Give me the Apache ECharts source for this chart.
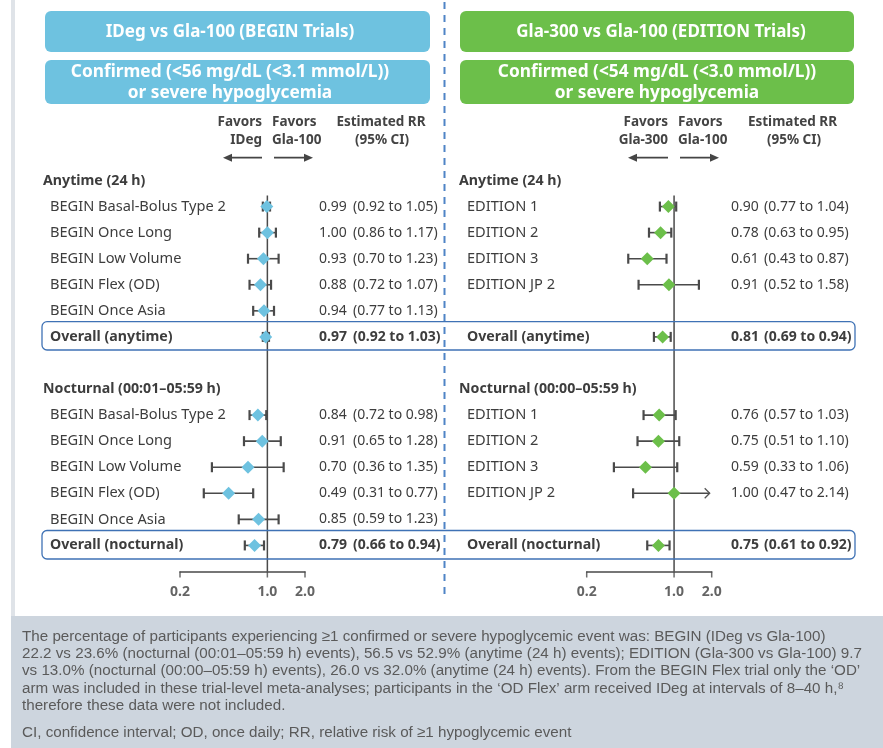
<!DOCTYPE html>
<html><head><meta charset="utf-8">
<script src="https://cdn.jsdelivr.net/npm/echarts@6/dist/echarts.min.js"></script>
<style>html,body{margin:0;padding:0;background:#fff}#c{width:883px;height:748px}</style>
</head><body><div id="c"></div>
<script>
// ---------------- DATA ----------------
const beginTrials = ['BEGIN Basal-Bolus Type 2','BEGIN Once Long','BEGIN Low Volume','BEGIN Flex (OD)','BEGIN Once Asia'];
const beginAnyRR = [0.99, 1.00, 0.93, 0.88, 0.94];
const beginAnyLo = [0.92, 0.86, 0.70, 0.72, 0.77];
const beginAnyHi = [1.05, 1.17, 1.23, 1.07, 1.13];
const beginAnyOverall = [0.97, 0.92, 1.03];
const beginNocRR = [0.84, 0.91, 0.70, 0.49, 0.85];
const beginNocLo = [0.72, 0.65, 0.36, 0.31, 0.59];
const beginNocHi = [0.98, 1.28, 1.35, 0.77, 1.23];
const beginNocOverall = [0.79, 0.66, 0.94];

const editionTrials = ['EDITION 1','EDITION 2','EDITION 3','EDITION JP 2'];
const edAnyRR = [0.90, 0.78, 0.61, 0.91];
const edAnyLo = [0.77, 0.63, 0.43, 0.52];
const edAnyHi = [1.04, 0.95, 0.87, 1.58];
const edAnyOverall = [0.81, 0.69, 0.94];
const edNocRR = [0.76, 0.75, 0.59, 1.00];
const edNocLo = [0.57, 0.51, 0.33, 0.47];
const edNocHi = [1.03, 1.10, 1.06, 2.14];
const edNocOverall = [0.75, 0.61, 0.92];

const tickValues = [0.2, 1.0, 2.0];
const tickLabels = ['0.2', '1.0', '2.0'];
const axisMin = 0.2, axisMax = 2.0;

// ---------------- BUILD ROWS ----------------
function buildPanel(secs, slots) {
  const labels = [], types = [], vals = [], pts = [];
  secs.forEach(s => {
    labels.push(s.header); types.push('h'); vals.push(null);
    for (let i = 0; i < slots; i++) {
      if (i < s.trials.length) {
        pts.push([s.lo[i], s.hi[i], labels.length, s.rr[i]]);
        labels.push(s.trials[i]); types.push('t'); vals.push([s.rr[i], s.lo[i], s.hi[i]]);
      } else { labels.push(''); types.push(''); vals.push(null); }
    }
    pts.push([s.overall[1], s.overall[2], labels.length, s.overall[0]]);
    labels.push(s.overallLabel); types.push('o'); vals.push(s.overall);
    labels.push(''); types.push(''); vals.push(null);
  });
  return {labels, types, vals, pts};
}
const leftP = buildPanel([
  {header:'Anytime (24 h)', trials:beginTrials, rr:beginAnyRR, lo:beginAnyLo, hi:beginAnyHi, overall:beginAnyOverall, overallLabel:'Overall (anytime)'},
  {header:'Nocturnal (00:01–05:59 h)', trials:beginTrials, rr:beginNocRR, lo:beginNocLo, hi:beginNocHi, overall:beginNocOverall, overallLabel:'Overall (nocturnal)'}
], 5);
const rightP = buildPanel([
  {header:'Anytime (24 h)', trials:editionTrials, rr:edAnyRR, lo:edAnyLo, hi:edAnyHi, overall:edAnyOverall, overallLabel:'Overall (anytime)'},
  {header:'Nocturnal (00:00–05:59 h)', trials:editionTrials, rr:edNocRR, lo:edNocLo, hi:edNocHi, overall:edNocOverall, overallLabel:'Overall (nocturnal)'}
], 5);
const nRows = leftP.labels.length; // 16
const cats = leftP.labels.map((_, i) => String(i));

const FONT = 'Noto Sans';
const TXT = '#3d3d3d';
const BLUE = '#6ec2e0', GREEN = '#6cbf4a';

function labelFmt(panel) {
  return (v, i) => {
    const t = panel.types[i], s = panel.labels[i];
    if (!s) return '';
    return '{' + t + '|' + s + '}';
  };
}
function valFmt(panel) {
  return (v, i) => {
    const d = panel.vals[i];
    if (!d) return '';
    const b = panel.types[i] === 'o' ? 'b' : '';
    return '{v' + b + '|' + d[0].toFixed(2) + '}{c' + b + '|(' + d[1].toFixed(2) + ' to ' + d[2].toFixed(2) + ')}';
  };
}
function labelRich(pad) {
  const base = {fontFamily: FONT, fontSize: 14.6, color: TXT};
  return {
    h: Object.assign({}, base, {fontWeight: 'bold', fontSize: 14.2}),
    t: Object.assign({}, base, {padding: [0, 0, 0, pad]}),
    o: Object.assign({}, base, {fontWeight: 'bold', fontSize: 14.2, padding: [0, 0, 0, pad]})
  };
}
function valRich(w) {
  const base = {fontFamily: FONT, fontSize: 14, color: TXT};
  return {
    v: Object.assign({}, base, {width: w}),
    c: Object.assign({}, base),
    vb: Object.assign({}, base, {width: w, fontWeight: 'bold'}),
    cb: Object.assign({}, base, {fontWeight: 'bold'})
  };
}

const G = [
  {left: 180, width: 125, top: 180.5, height: 391},
  {left: 586.7, width: 125, top: 180.5, height: 391}
];

function xAxisFor(gi) {
  return {
    type: 'log', logBase: 10, gridIndex: gi, min: axisMin, max: axisMax,
    axisLine: {show: true, lineStyle: {color: '#4a4a4a', width: 1.5}},
    axisTick: {show: false}, axisLabel: {show: false}, splitLine: {show: false}
  };
}
function yAxesFor(gi, panel, margin, pad, valMargin, valW) {
  return [
    {type: 'category', gridIndex: gi, data: cats, inverse: true, boundaryGap: false, position: 'left',
     axisLine: {show: false}, axisTick: {show: false}, splitLine: {show: false},
     axisLabel: {align: 'left', margin: margin, interval: 0, formatter: labelFmt(panel), rich: labelRich(pad)}},
    {type: 'category', gridIndex: gi, data: cats, inverse: true, boundaryGap: false, position: 'right',
     axisLine: {show: false}, axisTick: {show: false}, splitLine: {show: false},
     axisLabel: {align: 'left', margin: valMargin, interval: 0, formatter: valFmt(panel), rich: valRich(valW)}}
  ];
}

function renderErr(params, api) {
  const lo = api.value(0), hi = api.value(1), row = api.value(2);
  const clipped = hi > axisMax;
  const p1 = api.coord([lo, row]);
  const p2 = api.coord([Math.min(hi, axisMax), row]);
  const y = p1[1];
  const st = {stroke: '#4a4a4a', lineWidth: 1.6};
  const ch = [
    {type: 'line', shape: {x1: p1[0], y1: y, x2: p2[0] - (clipped ? 2 : 0), y2: y}, style: st},
    {type: 'line', shape: {x1: p1[0], y1: y - 5, x2: p1[0], y2: y + 5}, style: {stroke: '#4a4a4a', lineWidth: 2.2}}
  ];
  if (clipped) {
    ch.push({type: 'polyline', shape: {points: [[p2[0] - 7, y - 5], [p2[0] - 2, y], [p2[0] - 7, y + 5]]}, style: {stroke: '#555', fill: null, lineWidth: 1.3}});
  } else {
    ch.push({type: 'line', shape: {x1: p2[0], y1: y - 5, x2: p2[0], y2: y + 5}, style: {stroke: '#4a4a4a', lineWidth: 2.2}});
  }
  return {type: 'group', children: ch};
}
function renderRef(params, api) {
  const top = api.coord([1, 0]);
  const bot = api.coord([1, nRows - 1]);
  return {type: 'line', shape: {x1: top[0], y1: top[1] + 15, x2: bot[0], y2: bot[1]}, style: {stroke: '#4a4a4a', lineWidth: 1.5}};
}

function seriesFor(gi, panel, color) {
  const xi = gi, yi = gi * 2;
  return [
    {type: 'custom', xAxisIndex: xi, yAxisIndex: yi, renderItem: renderRef, data: [[1, 0]], encode: {x: 0, y: 1}, z: 1, silent: true},
    {type: 'custom', xAxisIndex: xi, yAxisIndex: yi, renderItem: renderErr,
     data: panel.pts.map(p => [p[0], p[1], p[2]]), encode: {x: [0, 1], y: 2}, z: 2, silent: true},
    {type: 'scatter', xAxisIndex: xi, yAxisIndex: yi, symbol: 'diamond', symbolSize: 13,
     itemStyle: {color: color, opacity: 1}, data: panel.pts.map(p => [p[3], p[2]]), z: 3, silent: true},
    {type: 'scatter', xAxisIndex: xi, yAxisIndex: yi, symbol: 'rect', symbolSize: [1.5, 6], symbolOffset: [0, 3],
     itemStyle: {color: '#4a4a4a'}, data: tickValues.map(v => [v, nRows - 1]), z: 3, silent: true,
     label: {show: true, position: 'bottom', distance: 8, formatter: p => tickLabels[p.dataIndex],
             fontFamily: FONT, fontSize: 14, fontWeight: 'bold', color: TXT}}
  ];
}

function txt(text, x, y, o) {
  return {type: 'text', x: x, y: y, silent: true, z: 10, style: Object.assign({text: text, fontFamily: FONT, fontSize: 14, fill: TXT, align: 'left', verticalAlign: 'middle'}, o || {})};
}
function arrowPair(xL1, xL2, xR1, xR2, y) {
  const c = '#454545';
  return [
    {type: 'line', shape: {x1: xL1 + 6, y1: y, x2: xL2, y2: y}, style: {stroke: c, lineWidth: 1.8}, z: 10},
    {type: 'polygon', shape: {points: [[xL1, y], [xL1 + 9, y - 4], [xL1 + 9, y + 4]]}, style: {fill: c}, z: 10},
    {type: 'line', shape: {x1: xR1, y1: y, x2: xR2 - 6, y2: y}, style: {stroke: c, lineWidth: 1.8}, z: 10},
    {type: 'polygon', shape: {points: [[xR2, y], [xR2 - 9, y - 4], [xR2 - 9, y + 4]]}, style: {fill: c}, z: 10}
  ];
}

const footLines = [
  'The percentage of participants experiencing ≥1 confirmed or severe hypoglycemic event was: BEGIN (IDeg vs Gla-100)',
  '22.2 vs 23.6% (nocturnal (00:01–05:59 h) events), 56.5 vs 52.9% (anytime (24 h) events); EDITION (Gla-300 vs Gla-100) 9.7',
  'vs 13.0% (nocturnal (00:00–05:59 h) events), 26.0 vs 32.0% (anytime (24 h) events). From the BEGIN Flex trial only the ‘OD’',
  'arm was included in these trial-level meta-analyses; participants in the ‘OD Flex’ arm received IDeg at intervals of 8–40 h,⁸',
  'therefore these data were not included.'
];
const footAbbrev = 'CI, confidence interval; OD, once daily; RR, relative risk of ≥1 hypoglycemic event';

const hdrStyle = {fontWeight: 'bold', fontSize: 13.5, fill: '#444'};
const titleStyle = {fill: '#fff', fontWeight: 'bold', fontSize: 17, align: 'center'};
const subStyle = {fill: '#fff', fontWeight: 'bold', fontSize: 17.3, align: 'center'};
const footStyle = {fontFamily: 'Liberation Sans', fontSize: 15.2, fill: '#5a5a5a'};
const graphics = [
  {type: 'rect', shape: {x: 11, y: 0, width: 4, height: 616}, style: {fill: '#dfe3e8'}, z: 0, silent: true},
  {type: 'rect', shape: {x: 11, y: 616, width: 872, height: 132}, style: {fill: '#cdd5de'}, z: 0, silent: true},
  // title boxes
  {type: 'rect', shape: {x: 45, y: 11, width: 385, height: 41, r: 6}, style: {fill: BLUE}, z: 5, silent: true},
  {type: 'rect', shape: {x: 45, y: 60, width: 385, height: 44, r: 6}, style: {fill: BLUE}, z: 5, silent: true},
  {type: 'rect', shape: {x: 460, y: 11, width: 394, height: 41, r: 6}, style: {fill: GREEN}, z: 5, silent: true},
  {type: 'rect', shape: {x: 460, y: 60, width: 394, height: 44, r: 6}, style: {fill: GREEN}, z: 5, silent: true},
  txt('IDeg vs Gla-100 (BEGIN Trials)', 230, 32, titleStyle),
  txt('Confirmed (<56 mg/dL (<3.1 mmol/L))', 230, 72.5, subStyle),
  txt('or severe hypoglycemia', 230, 93.5, subStyle),
  txt('Gla-300 vs Gla-100 (EDITION Trials)', 661, 32, titleStyle),
  txt('Confirmed (<54 mg/dL (<3.0 mmol/L))', 657, 72.5, subStyle),
  txt('or severe hypoglycemia', 657, 93.5, subStyle),
  // column headers left
  txt('Favors', 262, 122, Object.assign({align: 'right'}, hdrStyle)),
  txt('IDeg', 262, 140, Object.assign({align: 'right'}, hdrStyle)),
  txt('Favors', 272, 122, hdrStyle),
  txt('Gla-100', 272, 140, hdrStyle),
  txt('Estimated RR', 381, 122, Object.assign({align: 'center'}, hdrStyle)),
  txt('(95% CI)', 382, 140, Object.assign({align: 'center'}, hdrStyle)),
  // column headers right
  txt('Favors', 668, 122, Object.assign({align: 'right'}, hdrStyle)),
  txt('Gla-300', 668, 140, Object.assign({align: 'right'}, hdrStyle)),
  txt('Favors', 678, 122, hdrStyle),
  txt('Gla-100', 678, 140, hdrStyle),
  txt('Estimated RR', 792.5, 122, Object.assign({align: 'center'}, hdrStyle)),
  txt('(95% CI)', 794, 140, Object.assign({align: 'center'}, hdrStyle)),
  ...arrowPair(223, 262, 274, 313, 157.7),
  ...arrowPair(628, 668, 680, 719, 157.7),
  // overall boxes
  {type: 'rect', shape: {x: 42, y: 321.7, width: 813, height: 28.3, r: 5}, style: {fill: null, stroke: '#3f72b5', lineWidth: 1.3}, z: 6, silent: true},
  {type: 'rect', shape: {x: 42, y: 530.5, width: 813, height: 28.5, r: 5}, style: {fill: null, stroke: '#3f72b5', lineWidth: 1.3}, z: 6, silent: true},
  // divider
  {type: 'line', shape: {x1: 444.5, y1: 2, x2: 444.5, y2: 598}, style: {stroke: '#4f84c6', lineWidth: 2, lineDash: [7, 6]}, z: 7, silent: true}
];
footLines.forEach((l, i) => graphics.push(txt(l, 22, 636.7 + i * 17.3, footStyle)));
graphics.push(txt(footAbbrev, 22, 733.3, footStyle));

const option = {
  animation: false,
  backgroundColor: '#ffffff',
  grid: G,
  xAxis: [xAxisFor(0), xAxisFor(1)],
  yAxis: [
    ...yAxesFor(0, leftP, 137, 7, 14, 34),
    ...yAxesFor(1, rightP, 127.7, 8, 19.3, 33)
  ],
  series: [...seriesFor(0, leftP, BLUE), ...seriesFor(1, rightP, GREEN)],
  graphic: {elements: graphics}
};
const chart = echarts.init(document.getElementById('c'), null, {renderer: 'canvas'});
chart.setOption(option);
</script>
</body></html>
